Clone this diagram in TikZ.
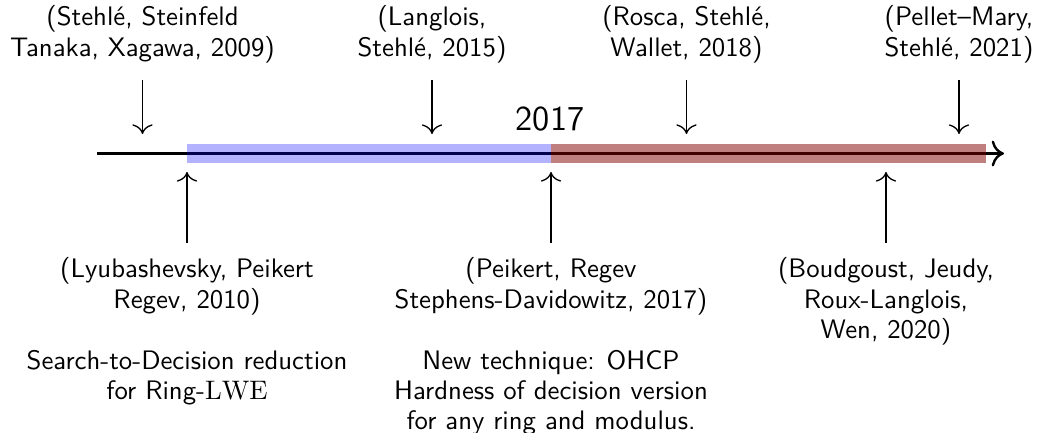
\documentclass[tikz,border=0pt]{standalone}
\usepackage{fontspec}
\usetikzlibrary{arrows.meta}
\begin{document}
\begin{tikzpicture}[x=0.3774pt,y=-0.3774pt,
  lbl/.style={align=center,inner sep=0pt,font=\fontsize{10.1}{11.5}\selectfont\sffamily},
  pointer/.style={-{To[scale=1.35]},line width=0.5pt},
  band/.style={line width=7.17pt},
  ]
\useasboundingbox (0,0) rectangle (1037,433);

% time axis
\coordinate (ax0) at (97,153.5);
\coordinate (ax1) at (1004,153.5);
\draw[line width=0.9pt,-{To[scale=1.3]}] (ax0) -- (ax1);

% coloured periods
\coordinate (b0) at (187,153.5);
\coordinate (b1) at (551,153.5);
\coordinate (b2) at (986,153.5);
\draw[band,blue,draw opacity=0.3] (b0) -- (b1);
\draw[band,red!50!black,draw opacity=0.5] (b1) -- (b2);

\node[font=\fontsize{13.2}{16}\selectfont\sffamily,anchor=base,inner sep=0pt] (yr) at (550,131) {2017};

% arrow tips near the axis
\coordinate (d1) at (142.5,134);
\coordinate (d2) at (432,134);
\coordinate (d3) at (686.5,134);
\coordinate (d4) at (959,134);
\coordinate (u1) at (187,172);
\coordinate (u2) at (551,172);
\coordinate (u3) at (886,172);

% references above the axis
\node[lbl,anchor=south] (t1) at (142.5,63.6) {(Stehlé, Steinfeld\\Tanaka, Xagawa, 2009)};
\node[lbl,anchor=south] (t2) at (432,63.6) {(Langlois,\\Stehlé, 2015)};
\node[lbl,anchor=south] (t3) at (686.5,63.6) {(Rosca, Stehlé,\\Wallet, 2018)};
\node[lbl,anchor=south] (t4) at (959,63.6) {(Pellet--Mary,\\Stehlé, 2021)};
\foreach \i in {1,2,3,4}
  \draw[pointer,shorten <=6.2pt] (t\i.south) -- (d\i);

% references below the axis
\node[lbl,anchor=north] (l1) at (187,257) {(Lyubashevsky, Peikert\\Regev, 2010)\\[\baselineskip]Search-to-Decision reduction\\for Ring-$\mathrm{LWE}$};
\node[lbl,anchor=north] (l2) at (551,257) {(Peikert, Regev\\Stephens-Davidowitz, 2017)\\[\baselineskip]New technique: OHCP\\Hardness of decision version\\for any ring and modulus.};
\node[lbl,anchor=north] (l3) at (886,257) {(Boudgoust, Jeudy,\\Roux-Langlois,\\Wen, 2020)};
\foreach \i in {1,2,3}
  \draw[pointer,shorten <=5.3pt] (l\i.north) -- (u\i);
\end{tikzpicture}
\end{document}
